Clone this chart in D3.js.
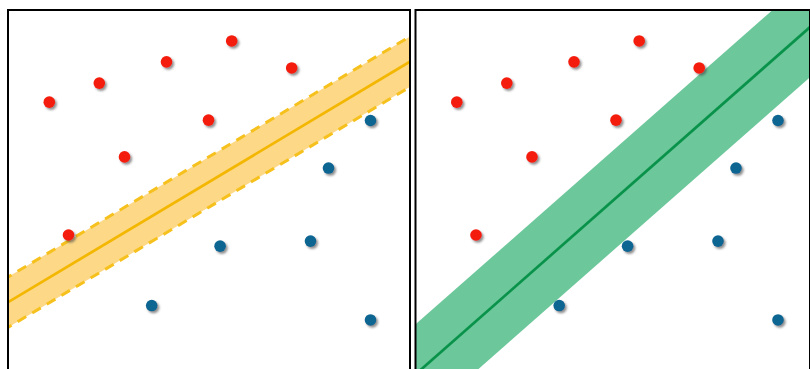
<!DOCTYPE html>
<html>
<head>
<meta charset="utf-8">
<script src="https://cdn.jsdelivr.net/npm/d3@7"></script>
<style>
  html, body { margin: 0; padding: 0; background: #fff; }
  svg { display: block; }
</style>
</head>
<body>
<svg id="chart" width="810" height="369"></svg>
<script>
// ---- data ----
const redX  = [1.02, 2.27, 3.95, 5.58, 7.08, 5.00, 2.90, 1.50];
const redY  = [7.44, 7.97, 8.56, 9.14, 8.39, 6.94, 5.92, 3.75];
const blueX = [9.05, 8.00, 5.29, 7.55, 3.58, 9.05];
const blueY = [6.93, 5.61, 3.44, 3.58, 1.79, 1.39];

// decision boundaries: y = intercept + slope * x, margin = half band width
const panelNames  = ["narrow margin", "wide margin"];
const intercepts  = [1.89, -0.11];
const slopes      = [0.665, 0.978];
const margins     = [0.70, 1.39];

// ---- layout ----
const svg = d3.select("#chart");
const panels = [
  { left: 8,   right: 410, top: 10, bottom: 400, band: "#fdd887", bandEdge: "#f6c11c", line: "#f4b700", dashed: true },
  { left: 415.5, right: 810, top: 10, bottom: 400, band: "#6cc79b", bandEdge: null, line: "#09924a", dashed: false }
];

const defs = svg.append("defs");
const f = defs.append("filter").attr("id", "shadow")
  .attr("x", "-50%").attr("y", "-50%").attr("width", "200%").attr("height", "200%");
f.append("feDropShadow").attr("dx", 1.8).attr("dy", 2).attr("stdDeviation", 1.2)
  .attr("flood-color", "#444").attr("flood-opacity", 0.6);

const pointsRed  = redX.map((x, i) => ({ x, y: redY[i] }));
const pointsBlue = blueX.map((x, i) => ({ x, y: blueY[i] }));

panels.forEach((p, i) => {
  const xs = d3.scaleLinear().domain([0, 10]).range([p.left + 0.5, p.left + 400.5]);
  const ys = d3.scaleLinear().domain([0, 10]).range([370, 10]);

  const clipId = "clip" + i;
  defs.append("clipPath").attr("id", clipId)
    .append("rect").attr("x", p.left).attr("y", p.top)
    .attr("width", p.right - p.left).attr("height", p.bottom - p.top);

  const g = svg.append("g").attr("clip-path", `url(#${clipId})`).attr("class", panelNames[i]);

  const xd = [xs.invert(p.left - 5), xs.invert(p.right + 5)];
  const b = intercepts[i], m = slopes[i], mg = margins[i];
  const f0 = x => b + m * x;

  g.append("path")
    .datum(xd)
    .attr("d", d3.area().x(d => xs(d)).y0(d => ys(f0(d) - mg)).y1(d => ys(f0(d) + mg)))
    .attr("fill", p.band);

  if (p.dashed) {
    [-mg, mg].forEach(off => {
      g.append("path").datum(xd)
        .attr("d", d3.line().x(d => xs(d)).y(d => ys(f0(d) + off)))
        .attr("fill", "none").attr("stroke", p.bandEdge)
        .attr("stroke-width", 3).attr("stroke-dasharray", "10,7");
    });
  }

  g.append("path").datum(xd)
    .attr("d", d3.line().x(d => xs(d)).y(d => ys(f0(d))))
    .attr("fill", "none").attr("stroke", p.line).attr("stroke-width", 2.7);

  g.selectAll("circle.red").data(pointsRed).join("circle")
    .attr("class", "red")
    .attr("cx", d => xs(d.x)).attr("cy", d => ys(d.y)).attr("r", 5.8)
    .attr("fill", "#f41c0c").attr("filter", "url(#shadow)");

  g.selectAll("circle.blue").data(pointsBlue).join("circle")
    .attr("class", "blue")
    .attr("cx", d => xs(d.x)).attr("cy", d => ys(d.y)).attr("r", 5.8)
    .attr("fill", "#0c6592").attr("filter", "url(#shadow)");

  svg.append("rect")
    .attr("x", p.left).attr("y", p.top)
    .attr("width", p.right - p.left).attr("height", p.bottom - p.top)
    .attr("fill", "none").attr("stroke", "#000").attr("stroke-width", 2);
});
</script>
</body>
</html>
